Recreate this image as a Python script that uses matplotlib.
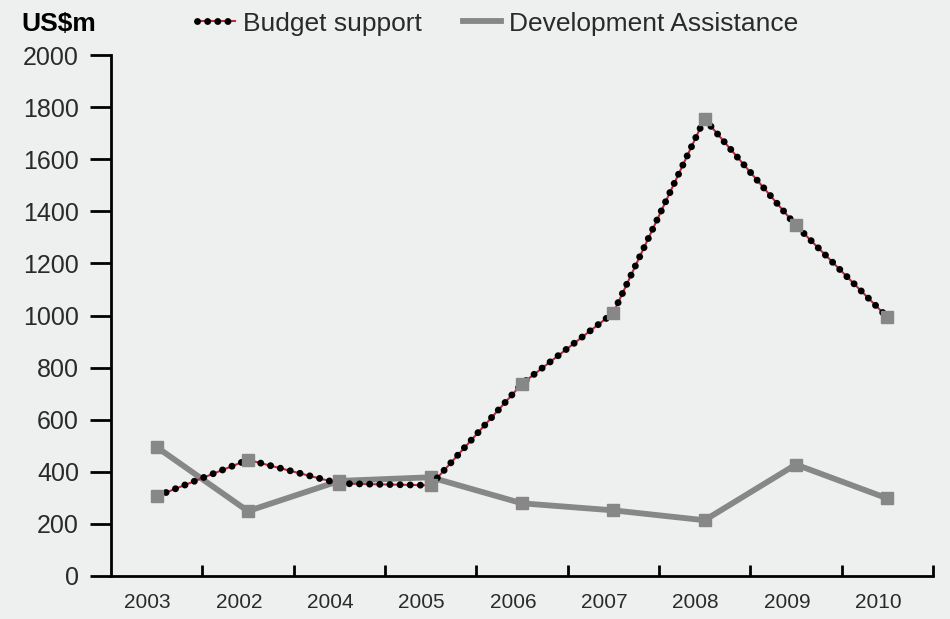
import matplotlib
matplotlib.use("Agg")
import matplotlib.pyplot as plt
import matplotlib.transforms as mtransforms
from matplotlib.lines import Line2D

plt.rcParams['font.family'] = ['Liberation Sans', 'DejaVu Sans']

years = ["2003", "2002", "2004", "2005", "2006", "2007", "2008", "2009", "2010"]
budget_support = [306, 446, 355, 348, 738, 1010, 1755, 1346, 994]
dev_assistance = [495, 249, 365, 379, 279, 252, 214, 428, 298]
y_ticks = list(range(0, 2001, 200))

bg = "#eef0ef"
gray = "#878787"
red = "#c0283c"
txt = "#2a2a2a"
dots = (0, (0.01, 1.45))

fig = plt.figure(figsize=(9.5, 6.19), dpi=100, facecolor=bg)
ax = fig.add_axes([0.1168, 0.0695, 0.8652, 0.8415], facecolor=bg)

x = list(range(len(years)))

# Development Assistance
ax.plot(x, dev_assistance, color=gray, lw=4.2, marker="s", ms=9,
        mfc=gray, mec=gray, zorder=2)

# Budget support: thin red line with black dots on top
ax.plot(x, budget_support, color=red, lw=1.5, zorder=3)
ax.plot(x, budget_support, color="black", lw=5, ls=dots,
        dash_capstyle="round", zorder=4)
ax.plot(x, budget_support, ls="none", marker="s", ms=9, mfc=gray, mec=gray, zorder=5)

ax.set_xlim(-0.5, len(years) - 0.5)
ax.set_ylim(0, 2000)
ax.set_yticks(y_ticks)
ax.set_yticklabels([str(v) for v in y_ticks], fontsize=18, color=txt)
ax.tick_params(axis="y", direction="out", length=15, width=2, color="black", pad=8)

ax.set_xticks(x)
ax.set_xticklabels(years, fontsize=15, color=txt)
ax.tick_params(axis="x", which="major", length=0, pad=12)
ax.set_xticks([i + 0.5 for i in x], minor=True)
ax.tick_params(axis="x", which="minor", direction="in", length=8, width=2, color="black")

# year labels sit a bit left of their points
shift = mtransforms.ScaledTranslation(-0.09, 0, fig.dpi_scale_trans)
for lab in ax.get_xticklabels():
    lab.set_transform(lab.get_transform() + shift)

for s in ["top", "right"]:
    ax.spines[s].set_visible(False)
for s in ["left", "bottom"]:
    ax.spines[s].set_linewidth(2)
    ax.spines[s].set_color("black")

fig.text(0.023, 0.962, "US$m", fontsize=19, fontweight="bold", color="black", va="center")

h_bs = (Line2D([], [], color=red, lw=1.5),
        Line2D([], [], color="black", lw=5, ls=dots, dash_capstyle="round"))
h_da = Line2D([], [], color=gray, lw=4.2)
fig.legend([h_bs, h_da], ["Budget support", "Development Assistance"],
           loc="center left", bbox_to_anchor=(0.2075, 0.962), ncol=2, frameon=False,
           fontsize=19, handlelength=1.45, handletextpad=0.3, columnspacing=1.55,
           labelcolor=txt, borderpad=0, borderaxespad=0)

fig.savefig("out.png", dpi=100, facecolor=bg)
